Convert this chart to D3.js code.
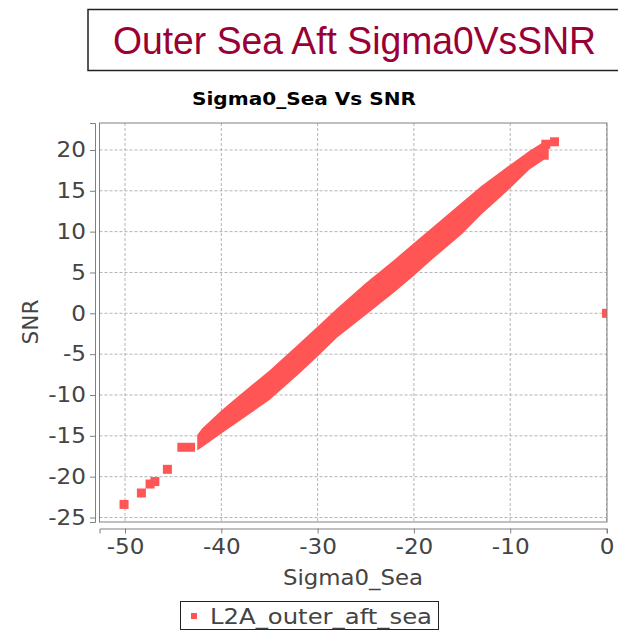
<!DOCTYPE html>
<html>
<head>
<meta charset="utf-8">
<script src="https://cdn.jsdelivr.net/npm/d3@7"></script>
<style>
  body { margin: 0; background: #fff; }
  text { font-family: "DejaVu Sans", sans-serif; }
</style>
</head>
<body>
<div class="chart-box"></div>
<script>
// tick values
var x_ticks = [-50, -40, -30, -20, -10, 0];
var y_ticks = [20, 15, 10, 5, 0, -5, -10, -15, -20, -25];

// dense band of points, read as its upper / lower envelope
var band_sigma0 = [-42.5, -42, -40, -38, -35, -32, -30, -28, -25, -22, -20, -18, -15, -13, -10, -8, -6.5, -6.0];
var band_snr_hi = [-14.9, -14.1, -11.9, -9.9, -7.0, -3.8, -1.6, 0.6, 3.7, 6.6, 8.6, 10.6, 13.6, 15.6, 18.2, 19.9, 21.0, 20.7];
var band_snr_lo = [-16.8, -16.4, -14.7, -13.1, -10.6, -7.5, -5.3, -3.0, -0.2, 2.6, 4.6, 6.7, 9.7, 12.1, 15.3, 17.6, 18.8, 18.8];

// isolated points
var pt_sigma0 = [-50.1, -48.3, -47.4, -46.9, -45.6, -44.1, -43.2, -6.3, -5.4, 0];
var pt_snr = [-23.4, -22.0, -20.9, -20.6, -19.1, -16.4, -16.4, 20.7, 21.0, 0];

var series_name = "L2A_outer_aft_sea";
var page_title = "Outer Sea Aft Sigma0VsSNR";
var chart_title = "Sigma0_Sea Vs SNR";

var W = 618, H = 637;
var plot = {left: 99.5, right: 607, top: 123, bottom: 522};
var red = "#ff5555", grey = "#808080", label_col = "#444";

var svg = d3.select(".chart-box").append("svg")
    .attr("width", W)
    .attr("height", H);

// page title box
svg.append("rect")
    .attr("x", 88).attr("y", 9.5)
    .attr("width", 540).attr("height", 61)
    .attr("fill", "none")
    .attr("stroke", "#222")
    .attr("stroke-width", 1.5);
svg.append("text")
    .attr("class", "fit")
    .attr("data-w", 483)
    .attr("x", 113).attr("y", 54)
    .style("font-family", "'Liberation Sans', Arial, sans-serif")
    .style("font-size", "39px")
    .attr("fill", "#990033")
    .text(page_title);

var x = d3.scaleLinear().domain([-52.65, 0.05]).range([plot.left, plot.right]);
var y = d3.scaleLinear().domain([-25.55, 23.3]).range([plot.bottom, plot.top]);

// chart title
svg.append("text")
    .attr("class", "fit")
    .attr("data-w", 224)
    .attr("x", 304).attr("y", 105)
    .attr("text-anchor", "middle")
    .style("font-size", "18px")
    .style("font-weight", "bold")
    .attr("fill", "#000")
    .text(chart_title);

// grid
var grid = svg.append("g").attr("stroke", "#b4b4b4").attr("stroke-dasharray", "3,2").attr("stroke-width", 1);
grid.selectAll(".gx").data(x_ticks).enter().append("line")
    .attr("x1", function(d) { return x(d); }).attr("x2", function(d) { return x(d); })
    .attr("y1", plot.top).attr("y2", plot.bottom);
grid.selectAll(".gy").data(y_ticks).enter().append("line")
    .attr("x1", plot.left).attr("x2", plot.right)
    .attr("y1", function(d) { return y(d); }).attr("y2", function(d) { return y(d); });

svg.append("clipPath").attr("id", "clip")
  .append("rect")
    .attr("x", plot.left).attr("y", plot.top)
    .attr("width", plot.right - plot.left).attr("height", plot.bottom - plot.top);

var marks = svg.append("g").attr("clip-path", "url(#clip)");

var band = band_sigma0.map(function(d, i) {
  return {x: d, hi: band_snr_hi[i], lo: band_snr_lo[i]};
});
marks.append("path")
    .datum(band)
    .attr("fill", red)
    .attr("d", d3.area()
      .x(function(d) { return x(d.x); })
      .y0(function(d) { return y(d.lo); })
      .y1(function(d) { return y(d.hi); }));

var sq = 9;
marks.selectAll(".pt")
    .data(pt_sigma0.map(function(d, i) { return {x: d, y: pt_snr[i]}; }))
  .enter().append("rect")
    .attr("class", "pt")
    .attr("x", function(d) { return x(d.x) - sq / 2; })
    .attr("y", function(d) { return y(d.y) - sq / 2; })
    .attr("width", sq).attr("height", sq)
    .attr("fill", red);

// plot outline
svg.append("rect")
    .attr("x", plot.left).attr("y", plot.top)
    .attr("width", plot.right - plot.left).attr("height", plot.bottom - plot.top)
    .attr("fill", "none").attr("stroke", grey);

// axes (plain hyphen for negatives, like the original)
var fmt = function(d) { return String(d); };
var x_axis = svg.append("g")
    .attr("transform", "translate(0," + 528.5 + ")")
    .call(d3.axisBottom(x).tickValues(x_ticks).tickFormat(fmt).tickSizeOuter(0).tickSize(5).tickPadding(6));
var y_axis = svg.append("g")
    .attr("transform", "translate(" + 95 + ",0)")
    .call(d3.axisLeft(y).tickValues(y_ticks).tickFormat(fmt).tickSizeOuter(0).tickSize(5).tickPadding(4));

[x_axis, y_axis].forEach(function(a) {
  a.select(".domain").attr("stroke", grey);
  a.selectAll(".tick line").attr("stroke", grey);
  a.selectAll(".tick text")
      .attr("class", "fit-k")
      .attr("fill", label_col)
      .style("font-size", "21px")
      .style("font-family", "'DejaVu Sans', sans-serif");
});

svg.append("text")
    .attr("class", "fit")
    .attr("data-w", 140)
    .attr("x", 353).attr("y", 585)
    .attr("text-anchor", "middle")
    .style("font-size", "21px")
    .attr("fill", label_col)
    .text("Sigma0_Sea");
svg.append("text")
    .attr("class", "fit")
    .attr("data-w", 45)
    .attr("transform", "translate(" + 38 + "," + 322 + ") rotate(-90)")
    .attr("text-anchor", "middle")
    .style("font-size", "21px")
    .attr("fill", label_col)
    .text("SNR");

// legend
svg.append("rect")
    .attr("x", 180.5).attr("y", 601.5)
    .attr("width", 258).attr("height", 28)
    .attr("fill", "none").attr("stroke", "#222");
svg.append("rect")
    .attr("x", 191).attr("y", 613)
    .attr("width", 6).attr("height", 6)
    .attr("fill", red);
svg.append("text")
    .attr("class", "fit")
    .attr("data-w", 222)
    .attr("x", 210).attr("y", 624)
    .style("font-size", "22px")
    .attr("fill", label_col)
    .text(series_name);

// stretch text to the widths
svg.selectAll("text.fit").each(function() {
  var el = d3.select(this);
  el.attr("textLength", el.attr("data-w")).attr("lengthAdjust", "spacingAndGlyphs");
});
svg.selectAll("text.fit-k").each(function() {
  var w = this.getComputedTextLength();
  d3.select(this).attr("textLength", w * 1.1).attr("lengthAdjust", "spacingAndGlyphs");
});
</script>
</body>
</html>
